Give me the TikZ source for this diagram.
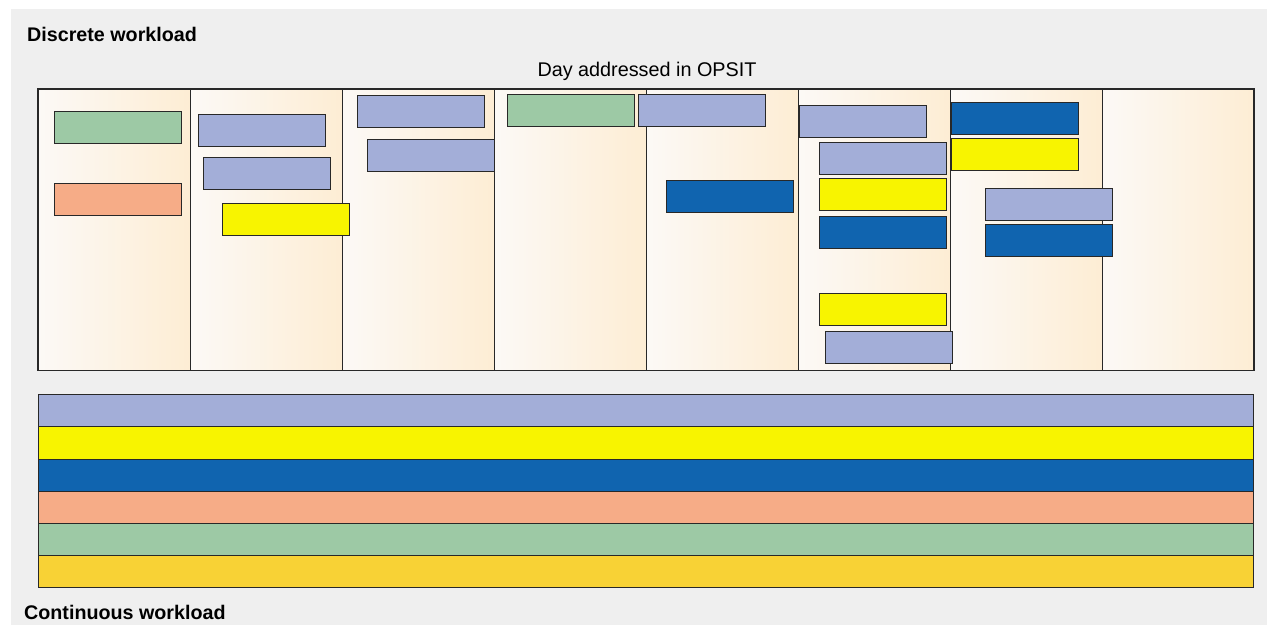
\documentclass[tikz,border=0pt]{standalone}
\usepackage{fontspec}
\setmainfont{Liberation Sans}
\definecolor{bggray}{RGB}{239,239,239}
\definecolor{lav}{RGB}{163,174,216}
\definecolor{yel}{RGB}{248,244,0}
\definecolor{blu}{RGB}{16,100,175}
\definecolor{sal}{RGB}{246,172,135}
\definecolor{grn}{RGB}{157,201,165}
\definecolor{gld}{RGB}{248,210,53}
\definecolor{colL}{RGB}{252,249,246}
\definecolor{colR}{RGB}{253,237,212}
\definecolor{edge}{RGB}{40,40,40}
\tikzset{
  wb/.style={draw=edge, line width=1pt, anchor=north west, inner sep=0pt,
    minimum width=127pt, minimum height=32pt, outer sep=0pt},
  band/.style={draw=edge, line width=1pt, anchor=north west, inner sep=0pt,
    minimum width=1215pt, minimum height=32.17pt, outer sep=0pt},
  title/.style={inner sep=0pt, font=\bfseries\fontsize{19.7}{24}\selectfont},
  lbl/.style={inner sep=0pt, font=\fontsize{19.8}{24}\selectfont}
}
\begin{document}
\begin{tikzpicture}[x=1pt,y=-1pt]
\useasboundingbox (0,0) rectangle (1267,625);
\fill[bggray] (11,9) rectangle (1267,625);
% columns
\foreach \i in {0,...,7}{
  \shade[left color=colL, right color=colR] ({38+152*\i},89) rectangle ({38+152*(\i+1)},370.5);
}
\foreach \i in {1,...,7}{
  \draw[edge, line width=1pt] ({38+152*\i},89) -- ({38+152*\i},370.5);
}
\draw[edge, line width=1.2pt] (38,89) rectangle (1254,370.5);
% texts
\node[title, anchor=base west] (t1) at (27,41.5) {Discrete workload};
\node[title, anchor=base west] (t2) at (24,619.3) {Continuous workload};
\node[lbl, anchor=base] (t3) at (647,76) {Day addressed in OPSIT};
% column 1
\node[wb, fill=grn] (a1) at (54,111) {};
\node[wb, fill=sal] (a2) at (54,183) {};
% column 2
\node[wb, fill=lav] (b1) at (198,114) {};
\node[wb, fill=lav] (b2) at (203,157) {};
\node[wb, fill=yel] (b3) at (222,203) {};
% column 3
\node[wb, fill=lav] (c1) at (357,95) {};
\node[wb, fill=lav] (c2) at (367,139) {};
% column 4
\node[wb, fill=grn] (d1) at (507,94) {};
\node[wb, fill=lav] (d2) at (638,94) {};
% column 5
\node[wb, fill=blu] (e1) at (666,180) {};
% column 6
\node[wb, fill=lav] (f1) at (799.5,105) {};
\node[wb, fill=lav] (f2) at (819,142.3) {};
\node[wb, fill=yel] (f3) at (819,178.3) {};
\node[wb, fill=blu] (f4) at (819,216) {};
\node[wb, fill=yel] (f5) at (819,293.7) {};
\node[wb, fill=lav] (f6) at (825,331) {};
% column 7
\node[wb, fill=blu] (g1) at (951.3,102.3) {};
\node[wb, fill=yel] (g2) at (951.3,138.3) {};
\node[wb, fill=lav] (g3) at (985,188) {};
\node[wb, fill=blu] (g4) at (985,224) {};
% continuous bands
\node[band, fill=lav] (h1) at (38.5,394.7) {};
\node[band, fill=yel] (h2) at (38.5,426.87) {};
\node[band, fill=blu] (h3) at (38.5,459.04) {};
\node[band, fill=sal] (h4) at (38.5,491.21) {};
\node[band, fill=grn] (h5) at (38.5,523.38) {};
\node[band, fill=gld] (h6) at (38.5,555.55) {};
\end{tikzpicture}
\end{document}
